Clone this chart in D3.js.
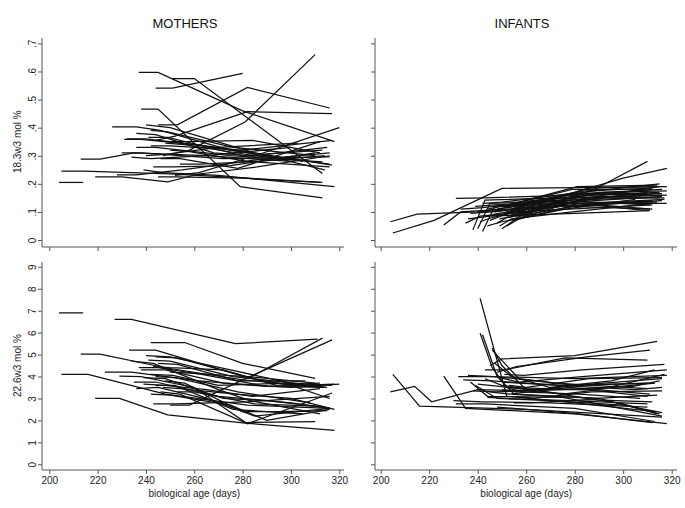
<!DOCTYPE html>
<html>
<head>
<meta charset="utf-8">
<script src="https://cdn.jsdelivr.net/npm/d3@7"></script>
<style>
  body { margin: 0; background: #fff; }
  svg { display: block; font-family: "Liberation Sans", Arial, sans-serif; }
</style>
</head>
<body>
<svg id="chart" width="685" height="508"></svg>
<script>
// tick values and labels
const ageTicks = [200, 220, 240, 260, 280, 300, 320];
const ticks183 = [0, .1, .2, .3, .4, .5, .6, .7];
const labels183 = ["0", ".1", ".2", ".3", ".4", ".5", ".6", ".7"];
const ticks226 = [0, 1, 2, 3, 4, 5, 6, 7, 8, 9];

// each subject: [biological age (days), mol %]
const mothers183 = [
  [[204,.205],[214,.205]],
  [[205,.245],[214,.245],[250,.235],[282,.22],[313,.205]],
  [[219,.225],[230,.225],[249,.207],[262,.235],[286,.26],[316,.30]],
  [[213,.288],[221,.288],[235,.31],[265,.30],[300,.28]],
  [[226,.403],[236,.403],[246,.39],[275,.32],[305,.28]],
  [[231,.358],[238,.358],[260,.34],[290,.30],[316,.27]],
  [[237,.597],[245,.597],[280,.46],[318,.35]],
  [[244,.541],[251,.541],[280,.593]],
  [[251,.575],[260,.575],[313,.237]],
  [[238,.466],[245,.466],[279,.19],[313,.15]],
  [[245,.41],[253,.41],[282,.543],[316,.47]],
  [[244,.355],[252,.37],[282,.457],[317,.45]],
  [[247,.30],[258,.32],[281,.42],[310,.66]],
  [[252,.23],[262,.24],[285,.30],[320,.40]],
  [[242,.335],[250,.335],[280,.32],[317,.355]],
  [[232,.36],[240,.36],[270,.33],[317,.267]],
  [[240,.41],[250,.40],[285,.31],[314,.25]],
  [[236,.33],[244,.33],[275,.30],[313,.278]],
  [[230,.31],[238,.31],[272,.29],[316,.296]],
  [[241,.365],[249,.365],[280,.30],[313,.32]],
  [[246,.29],[254,.29],[278,.255],[312,.35]],
  [[228,.232],[236,.232],[255,.25],[290,.29],[316,.31]],
  [[243,.26],[251,.26],[275,.265],[310,.31]],
  [[234,.295],[242,.29],[265,.30],[300,.33]],
  [[248,.345],[256,.34],[285,.30],[315,.33]],
  [[239,.25],[247,.24],[270,.23],[318,.19]],
  [[250,.32],[258,.315],[282,.28],[316,.26]],
  [[242,.39],[249,.385],[276,.33],[310,.30]],
  [[254,.27],[262,.27],[287,.28],[314,.30]],
  [[245,.225],[253,.225],[280,.22],[312,.205]],
  [[236,.38],[244,.375],[268,.31],[300,.29]],
  [[249,.35],[257,.35],[284,.355],[312,.31]],
  [[240,.30],[248,.305],[270,.33],[303,.345]]
];

const infants183 = [
  [[204,.065],[215,.092],[240,.10],[275,.12],[312,.14]],
  [[205,.025],[222,.07],[250,.184],[318,.19]],
  [[255,.09],[262,.10],[288,.18],[310,.28]],
  [[246,.12],[253,.12],[280,.17],[300,.22],[318,.255]],
  [[231,.148],[243,.15],[280,.16],[315,.17]],
  [[238,.036],[243,.142],[275,.15],[312,.16]],
  [[226,.053],[233,.10],[262,.115],[300,.13]],
  [[240,.04],[245,.13],[270,.14],[310,.105]],
  [[242,.03],[247,.12],[275,.135],[312,.11]],
  [[236,.075],[245,.085],[280,.095],[311,.105]],
  [[248,.06],[252,.08],[280,.12],[311,.11]],
  [[250,.04],[255,.07],[278,.12],[316,.14]],
  [[252,.05],[258,.08],[285,.15],[318,.16]],
  [[245,.07],[251,.09],[270,.13],[300,.17],[315,.19]],
  [[240,.10],[248,.11],[275,.15],[312,.18]],
  [[233,.11],[242,.115],[268,.14],[310,.15]],
  [[237,.095],[246,.10],[272,.13],[314,.135]],
  [[243,.085],[250,.09],[276,.16],[310,.175]],
  [[249,.075],[255,.085],[282,.165],[316,.18]],
  [[247,.10],[254,.11],[283,.17],[315,.20]],
  [[251,.095],[259,.12],[286,.185],[313,.19]],
  [[254,.07],[260,.095],[282,.14],[310,.17]],
  [[244,.05],[250,.065],[276,.11],[305,.145]],
  [[239,.12],[247,.125],[276,.14],[311,.125]],
  [[256,.085],[263,.11],[290,.17],[318,.175]],
  [[253,.10],[260,.13],[284,.175],[312,.185]],
  [[241,.065],[246,.08],[266,.12],[300,.16],[316,.165]],
  [[248,.11],[256,.12],[280,.15],[317,.15]],
  [[250,.12],[257,.135],[281,.19],[314,.195]],
  [[246,.09],[252,.10],[279,.13],[318,.13]],
  [[255,.115],[262,.14],[287,.16],[316,.165]],
  [[235,.06],[241,.085],[266,.105],[300,.12],[312,.125]],
  [[258,.08],[265,.11],[290,.155],[315,.15]],
  [[242,.13],[250,.135],[278,.165],[310,.165]],
  [[252,.085],[258,.10],[283,.13],[317,.145]],
  [[249,.05],[254,.075],[279,.10],[306,.125]],
  [[244,.11],[253,.125],[279,.18],[309,.18]],
  [[257,.10],[264,.125],[288,.14],[316,.155]]
];

const mothers226 = [
  [[204,6.9],[214,6.9]],
  [[227,6.6],[234,6.6],[277,5.5],[311,5.7]],
  [[213,5.02],[221,5.02],[248,4.4],[280,3.85],[313,3.5]],
  [[205,4.1],[216,4.1],[248,3.2],[282,2.7],[316,2.55]],
  [[219,3.0],[229,3.0],[249,2.25],[282,1.87],[318,1.55]],
  [[233,5.2],[244,5.2],[282,3.95],[300,3.6],[316,3.0]],
  [[242,5.55],[256,5.55],[280,4.6],[310,3.92]],
  [[244,4.9],[253,4.85],[283,3.95],[313,5.75]],
  [[250,2.7],[258,2.7],[282,3.95],[317,5.67]],
  [[223,4.2],[234,4.2],[262,3.8],[290,3.55],[318,3.65]],
  [[229,4.02],[238,4.0],[260,3.5],[282,1.85],[317,3.25]],
  [[235,3.75],[244,3.75],[270,3.1],[300,2.8],[316,2.55]],
  [[236,3.45],[245,3.5],[268,2.9],[285,2.2],[316,2.55]],
  [[238,4.3],[248,4.3],[272,3.7],[300,3.5],[320,3.65]],
  [[240,4.95],[250,4.9],[275,4.3],[300,3.7],[315,3.5]],
  [[241,4.75],[250,4.7],[276,4.0],[305,3.65]],
  [[239,3.95],[248,3.9],[272,3.0],[290,2.9],[314,2.6]],
  [[244,3.6],[252,3.6],[276,2.5],[305,2.3]],
  [[246,3.3],[254,3.2],[281,1.9],[310,1.95]],
  [[243,2.75],[252,2.75],[282,2.85],[316,3.1]],
  [[242,4.1],[251,4.05],[270,3.6],[300,3.7],[317,3.6]],
  [[237,4.4],[245,4.4],[263,4.1],[290,3.55],[314,3.5]],
  [[244,4.0],[252,3.95],[278,3.3],[308,2.8]],
  [[248,3.8],[256,3.7],[280,2.4],[295,2.4],[315,2.45]],
  [[245,4.6],[253,4.55],[278,3.8],[306,3.8]],
  [[242,3.2],[250,3.15],[275,2.7],[290,2.0],[316,2.5]],
  [[250,4.2],[258,4.15],[282,4.0],[310,3.7]],
  [[234,4.7],[243,4.6],[270,3.4],[283,2.9],[312,2.3]],
  [[247,3.5],[254,3.45],[277,3.2],[300,3.0],[318,2.5]],
  [[253,3.3],[260,3.3],[285,2.75],[310,2.65]],
  [[243,4.45],[250,4.4],[272,4.3],[294,3.6],[312,3.7]],
  [[239,3.65],[248,3.6],[265,3.4],[284,3.1],[312,3.45]]
];

const infants226 = [
  [[205,4.1],[216,2.65],[260,2.5],[316,2.15]],
  [[204,3.3],[214,3.55],[221,2.85],[240,3.4],[265,3.35]],
  [[226,4.02],[235,2.55],[280,2.3],[318,1.85]],
  [[241,7.56],[252,3.1],[280,2.8],[313,2.4]],
  [[241,5.97],[246,4.4],[252,3.5],[285,3.4],[313,3.7]],
  [[242,5.9],[248,4.0],[255,3.2],[290,3.0],[315,2.3]],
  [[246,5.2],[257,3.9],[280,3.6],[316,3.9]],
  [[245,4.5],[250,4.8],[280,4.95],[314,5.6]],
  [[248,4.2],[256,4.45],[285,4.9],[311,5.2]],
  [[232,4.0],[245,4.0],[280,3.9],[318,4.05]],
  [[234,3.85],[246,3.8],[275,3.6],[313,3.7]],
  [[230,2.9],[242,2.85],[270,2.8],[310,2.6]],
  [[231,2.75],[243,2.75],[280,2.55],[313,1.95]],
  [[237,3.75],[244,3.1],[275,3.05],[316,2.2]],
  [[239,3.6],[248,3.0],[270,2.9],[300,2.7],[316,2.35]],
  [[243,3.9],[250,3.6],[275,3.2],[290,3.4],[317,4.1]],
  [[247,4.6],[254,4.0],[270,3.5],[295,3.8],[313,4.3]],
  [[250,3.4],[256,3.3],[281,3.6],[310,3.7]],
  [[252,3.5],[258,3.3],[282,3.2],[307,3.0]],
  [[240,3.65],[249,3.55],[268,3.3],[300,2.75],[314,2.3]],
  [[236,4.05],[247,4.0],[272,3.7],[310,3.45]],
  [[244,3.05],[252,3.0],[278,2.9],[310,2.75]],
  [[249,3.95],[257,3.75],[283,4.0],[318,4.3]],
  [[253,3.6],[260,3.5],[286,3.9],[316,3.95]],
  [[245,3.3],[253,3.2],[278,3.5],[311,3.2]],
  [[251,4.1],[259,4.05],[283,4.3],[317,4.55]],
  [[238,3.35],[247,3.3],[274,3.4],[304,3.55],[315,3.8]],
  [[255,2.8],[262,2.8],[285,2.95],[312,2.85]],
  [[243,4.3],[251,4.3],[276,4.85],[310,4.75]],
  [[256,3.1],[263,3.0],[287,3.3],[316,3.35]],
  [[248,2.6],[255,2.55],[282,2.3],[312,1.9]],
  [[246,5.3],[250,4.5],[260,3.4],[285,3.4],[310,3.1]],
  [[250,3.75],[257,3.7],[281,3.55],[305,3.4],[316,3.5]],
  [[254,3.2],[261,3.15],[289,3.0],[314,3.15]]
];

const svg = d3.select("svg#chart");
const axisColor = "#555";

// column / row geometry (plot regions)
const cols = [
  { left: 42, right: 344, x0: 49.3, x1: 339.3, titleX: 185 },
  { left: 375, right: 677, x0: 380.7, x1: 671.7, titleX: 522 }
];
const rows = [
  { top: 38, bottom: 247, y0: 240, y1: 43.4, max: .7, ticks: ticks183, labels: labels183, title: "18.3w3 mol %" },
  { top: 262, bottom: 470, y0: 464.3, y1: 266.8, max: 9, ticks: ticks226, labels: ticks226.map(String), title: "22.6w3 mol %" }
];

function drawPanel(col, row, data, showY, showX) {
  const x = d3.scaleLinear().domain([200, 320]).range([col.x0, col.x1]);
  const y = d3.scaleLinear().domain([0, row.max]).range([row.y0, row.y1]);
  const g = svg.append("g");

  // axes lines
  g.append("line")
   .attr("x1", col.left).attr("x2", col.left)
   .attr("y1", row.top).attr("y2", row.bottom)
   .attr("stroke", axisColor);
  g.append("line")
   .attr("x1", col.left).attr("x2", col.right)
   .attr("y1", row.bottom).attr("y2", row.bottom)
   .attr("stroke", axisColor);

  const yAxis = g.append("g")
      .attr("transform", `translate(${col.left},0)`)
      .call(d3.axisLeft(y).tickValues(row.ticks).tickSize(4).tickSizeOuter(0)
              .tickFormat((d, i) => showY ? row.labels[i] : ""));
  yAxis.select(".domain").remove();
  yAxis.selectAll(".tick line").attr("stroke", axisColor);
  yAxis.selectAll(".tick text")
       .attr("transform", "rotate(-90)")
       .attr("x", 0).attr("y", -6).attr("dy", 0)
       .attr("text-anchor", "middle")
       .attr("font-size", 10)
       .attr("fill", "#222");

  const xAxis = g.append("g")
      .attr("transform", `translate(0,${row.bottom})`)
      .call(d3.axisBottom(x).tickValues(ageTicks).tickSize(4).tickSizeOuter(0)
              .tickFormat(d => showX ? d : ""));
  xAxis.select(".domain").remove();
  xAxis.selectAll(".tick line").attr("stroke", axisColor);
  xAxis.selectAll(".tick text")
       .attr("y", 7).attr("font-size", 10).attr("fill", "#222");

  const line = d3.line().x(d => x(d[0])).y(d => y(d[1]));
  g.selectAll(".subject")
   .data(data)
   .enter().append("path")
           .attr("class", "subject")
           .attr("fill", "none")
           .attr("stroke", "#111")
           .attr("stroke-width", 1.25)
           .attr("d", line);

  if (showY) {
    g.append("text")
     .attr("transform", `translate(18,${(row.y0 + row.y1) / 2}) rotate(-90)`)
     .attr("text-anchor", "middle")
     .attr("dominant-baseline", "middle")
     .attr("font-size", 10)
     .attr("fill", "#222")
     .text(row.title);
  }
  if (showX) {
    g.append("text")
     .attr("x", (col.x0 + col.x1) / 2)
     .attr("y", 497)
     .attr("text-anchor", "middle")
     .attr("font-size", 10)
     .attr("fill", "#222")
     .text("biological age (days)");
  }
}

drawPanel(cols[0], rows[0], mothers183, true, false);
drawPanel(cols[1], rows[0], infants183, false, false);
drawPanel(cols[0], rows[1], mothers226, true, true);
drawPanel(cols[1], rows[1], infants226, false, true);

svg.append("text")
   .attr("x", cols[0].titleX).attr("y", 28)
   .attr("text-anchor", "middle").attr("font-size", 13).attr("fill", "#111")
   .text("MOTHERS");
svg.append("text")
   .attr("x", cols[1].titleX).attr("y", 28)
   .attr("text-anchor", "middle").attr("font-size", 13).attr("fill", "#111")
   .text("INFANTS");
</script>
</body>
</html>
